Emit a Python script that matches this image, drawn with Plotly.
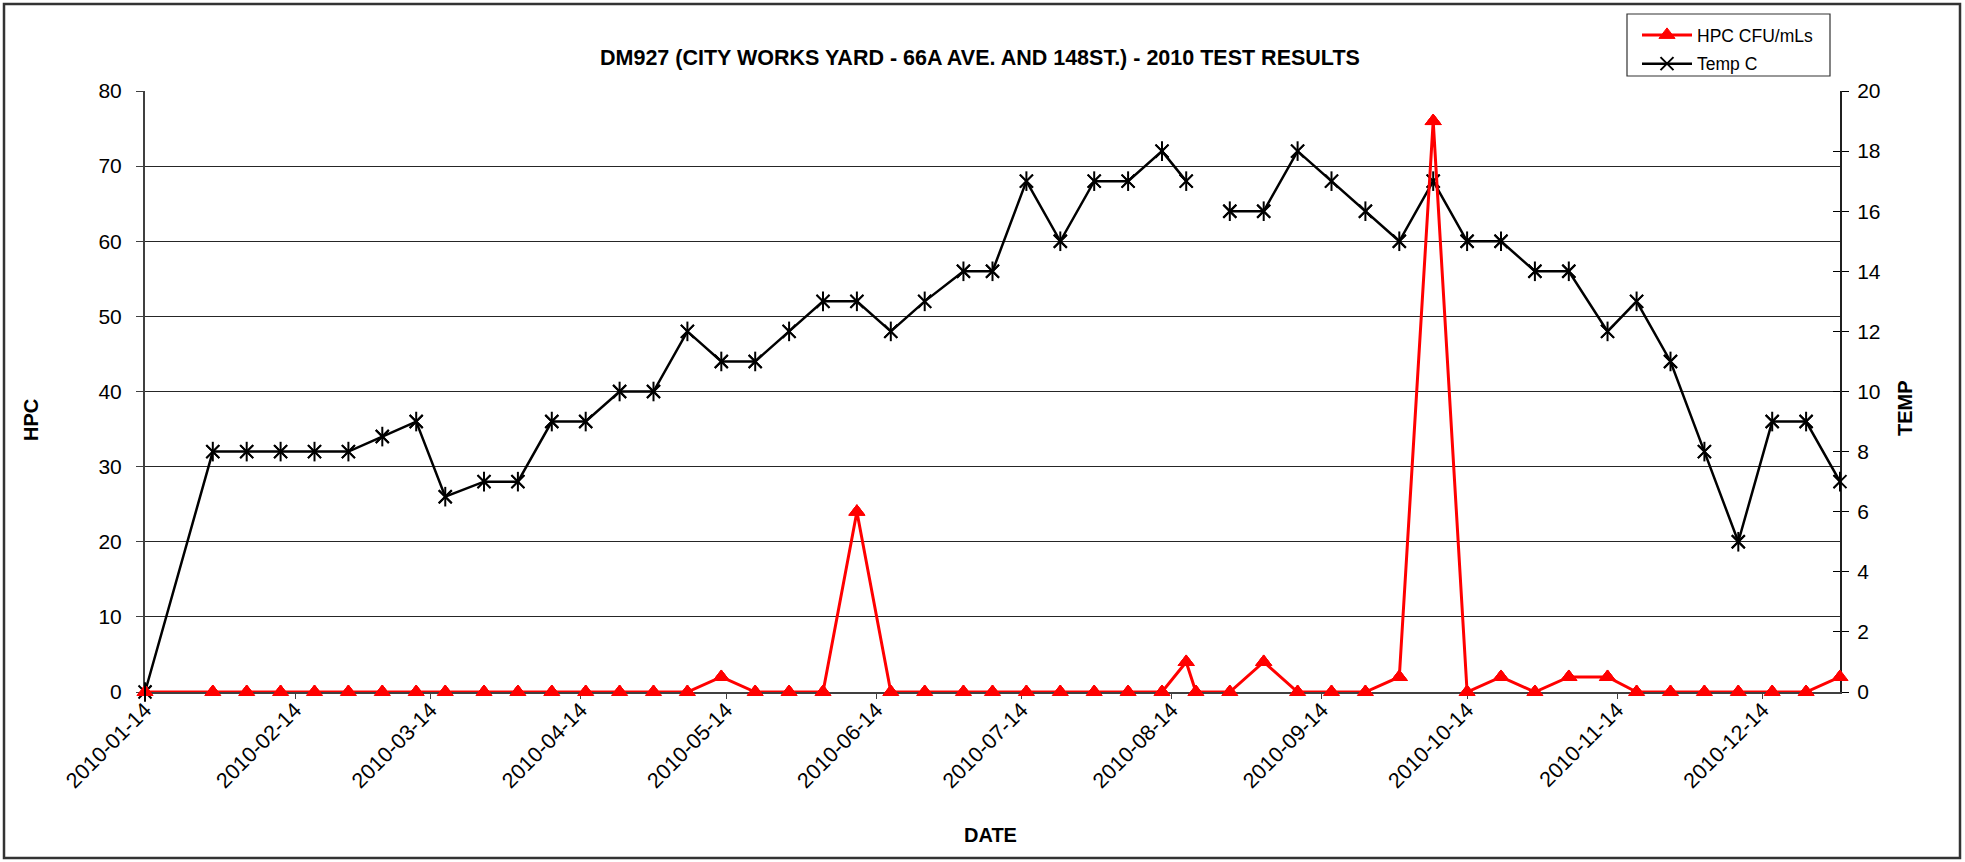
import plotly.graph_objects as go

# ---- data -------------------------------------------------------------
sample_dates = [
    "2010-01-14", "2010-01-28", "2010-02-04", "2010-02-11", "2010-02-18",
    "2010-02-25", "2010-03-04", "2010-03-11", "2010-03-17", "2010-03-25",
    "2010-04-01", "2010-04-08", "2010-04-15", "2010-04-22", "2010-04-29",
    "2010-05-06", "2010-05-13", "2010-05-20", "2010-05-27", "2010-06-03",
    "2010-06-10", "2010-06-17", "2010-06-24", "2010-07-02", "2010-07-08",
    "2010-07-15", "2010-07-22", "2010-07-29", "2010-08-05", "2010-08-12",
    "2010-08-17", "2010-08-19", "2010-08-26", "2010-09-02", "2010-09-09",
    "2010-09-16", "2010-09-23", "2010-09-30", "2010-10-07", "2010-10-14",
    "2010-10-21", "2010-10-28", "2010-11-04", "2010-11-12", "2010-11-18",
    "2010-11-25", "2010-12-02", "2010-12-09", "2010-12-16", "2010-12-23",
    "2010-12-30",
]

hpc_cfu = [
    0, 0, 0, 0, 0,
    0, 0, 0, 0, 0,
    0, 0, 0, 0, 0,
    0, 2, 0, 0, 0,
    24, 0, 0, 0, 0,
    0, 0, 0, 0, 0,
    4, 0, 0, 4, 0,
    0, 0, 2, 76, 0,
    2, 0, 2, 2, 0,
    0, 0, 0, 0, 0,
    2,
]

temp_c = [
    0, 8, 8, 8, 8,
    8, 8.5, 9, 6.5, 7,
    7, 9, 9, 10, 10,
    12, 11, 11, 12, 13,
    13, 12, 13, 14, 14,
    17, 15, 17, 17, 18,
    17, None, 16, 16, 18,
    17, 16, 15, 17, 15,
    15, 14, 14, 12, 13,
    11, 8, 5, 9, 9,
    7,
]

tick_dates = [
    "2010-01-14", "2010-02-14", "2010-03-14", "2010-04-14", "2010-05-14",
    "2010-06-14", "2010-07-14", "2010-08-14", "2010-09-14", "2010-10-14",
    "2010-11-14", "2010-12-14",
]

title_text = "DM927 (CITY WORKS YARD - 66A AVE. AND 148ST.) - 2010 TEST RESULTS"

# ---- geometry ---------------------------------------------------------
W, H = 1965, 862
L, R, T, B = 145, 1840, 91, 692          # plot area edges in px
PW, PH = R - L, B - T


def px_x(px):
    return (px - L) / PW


def px_y(py):
    return (B - py) / PH


FONT = "Liberation Sans, Arial, sans-serif"
INK = "#000000"
RED = "#ff0000"
GRID = "#262626"

tri_marker = dict(symbol="triangle-up", size=14, color=RED,
                  line=dict(color=RED, width=1))
star_marker = dict(symbol="x-thin-open", size=13, color=INK,
                   line=dict(color=INK, width=2))

fig = go.Figure()

# HPC: line with legend entry, plus unclipped triangles on top
fig.add_trace(go.Scatter(
    x=sample_dates, y=hpc_cfu, name="HPC CFU/mLs",
    mode="lines+markers", yaxis="y2",
    line=dict(color=RED, width=3), marker=tri_marker,
    legendgroup="hpc",
))
fig.add_trace(go.Scatter(
    x=sample_dates, y=hpc_cfu, mode="markers", yaxis="y2",
    cliponaxis=False, showlegend=False, hoverinfo="skip",
    marker=tri_marker, legendgroup="hpc",
))

# temperature: line with legend entry, plus unclipped star markers
fig.add_trace(go.Scatter(
    x=sample_dates, y=temp_c, name="Temp C",
    mode="lines+markers", yaxis="y",
    line=dict(color=INK, width=2.5), marker=star_marker,
    legendgroup="temp",
))
fig.add_trace(go.Scatter(
    x=sample_dates, y=temp_c, mode="markers", yaxis="y",
    cliponaxis=False, showlegend=False, hoverinfo="skip",
    marker=star_marker, legendgroup="temp",
))
# vertical stroke that completes the star marker
fig.add_trace(go.Scatter(
    x=sample_dates, y=temp_c, mode="markers", yaxis="y3",
    cliponaxis=False, showlegend=False, hoverinfo="skip",
    marker=dict(symbol="line-ns-open", size=14, color=INK,
                line=dict(color=INK, width=2)),
    legendgroup="temp",
))

tickfont = dict(family=FONT, size=21, color=INK)

fig.update_layout(
    width=W, height=H,
    margin=dict(l=L, r=W - R, t=T, b=H - B, pad=0, autoexpand=False),
    paper_bgcolor="white", plot_bgcolor="white",
    font=dict(family=FONT, color=INK),
    showlegend=True,
    legend=dict(
        x=px_x(1637), y=px_y(17), xanchor="left", yanchor="top",
        bgcolor="rgba(0,0,0,0)", borderwidth=0,
        font=dict(family=FONT, size=17.5, color=INK),
        traceorder="grouped", tracegroupgap=3,
        itemwidth=50,
    ),
    xaxis=dict(
        type="date",
        range=[sample_dates[0], sample_dates[-1]],
        tickvals=tick_dates, ticktext=tick_dates,
        tickangle=-45, tickfont=dict(family=FONT, size=21.5, color=INK),
        ticks="outside", ticklen=5, tickcolor="#404040", tickwidth=1,
        ticklabelstandoff=-10,
        showline=True, linecolor="#404040", linewidth=2,
        showgrid=False, zeroline=False, layer="below traces",
    ),
    # temperature scale (right)
    yaxis=dict(
        range=[0, 20], dtick=2, side="right",
        tickfont=tickfont,
        ticks="outside", ticklen=7, tickcolor=INK, tickwidth=1,
        ticklabelstandoff=4,
        showline=True, linecolor="#202020", linewidth=2,
        showgrid=False, zeroline=False, layer="below traces",
    ),
    # HPC scale (left) with the horizontal grid
    yaxis2=dict(
        range=[0, 80], dtick=10, side="left", overlaying="y",
        tickfont=tickfont,
        ticks="outside", ticklen=7, tickcolor="#404040", tickwidth=1,
        ticklabelstandoff=10,
        showline=True, linecolor="#404040", linewidth=2,
        showgrid=True, gridcolor=GRID, gridwidth=1.2,
        zeroline=False, layer="below traces",
    ),
    # inner half of the right-hand tick marks
    yaxis3=dict(
        range=[0, 20], dtick=2, side="right", overlaying="y",
        ticks="inside", ticklen=7, tickcolor=INK, tickwidth=1,
        showticklabels=False, showline=False, showgrid=False,
        zeroline=False,
    ),
)

# chart title and axis titles
fig.add_annotation(
    text=f"<b>{title_text}</b>", xref="paper", yref="paper",
    x=px_x(980), y=px_y(58), showarrow=False,
    xanchor="center", yanchor="middle",
    font=dict(family=FONT, size=21.5, color=INK),
)
fig.add_annotation(
    text="<b>HPC</b>", xref="paper", yref="paper",
    x=px_x(31), y=px_y(420), showarrow=False, textangle=-90,
    xanchor="center", yanchor="middle",
    font=dict(family=FONT, size=20, color=INK),
)
fig.add_annotation(
    text="<b>TEMP</b>", xref="paper", yref="paper",
    x=px_x(1905), y=px_y(408), showarrow=False, textangle=-90,
    xanchor="center", yanchor="middle",
    font=dict(family=FONT, size=20, color=INK),
)
fig.add_annotation(
    text="<b>DATE</b>", xref="paper", yref="paper",
    x=px_x(990), y=px_y(835), showarrow=False,
    xanchor="center", yanchor="middle",
    font=dict(family=FONT, size=20, color=INK),
)

# chart frame and legend box
fig.add_shape(
    type="rect", xref="paper", yref="paper",
    x0=px_x(4), x1=px_x(1960), y0=px_y(858), y1=px_y(4),
    line=dict(color="#333333", width=2.5), fillcolor="rgba(0,0,0,0)",
    layer="below",
)
fig.add_shape(
    type="rect", xref="paper", yref="paper",
    x0=px_x(1627), x1=px_x(1830), y0=px_y(76), y1=px_y(14),
    line=dict(color="#333333", width=1.2), fillcolor="white",
    layer="below",
)

fig.write_html("out.html")
